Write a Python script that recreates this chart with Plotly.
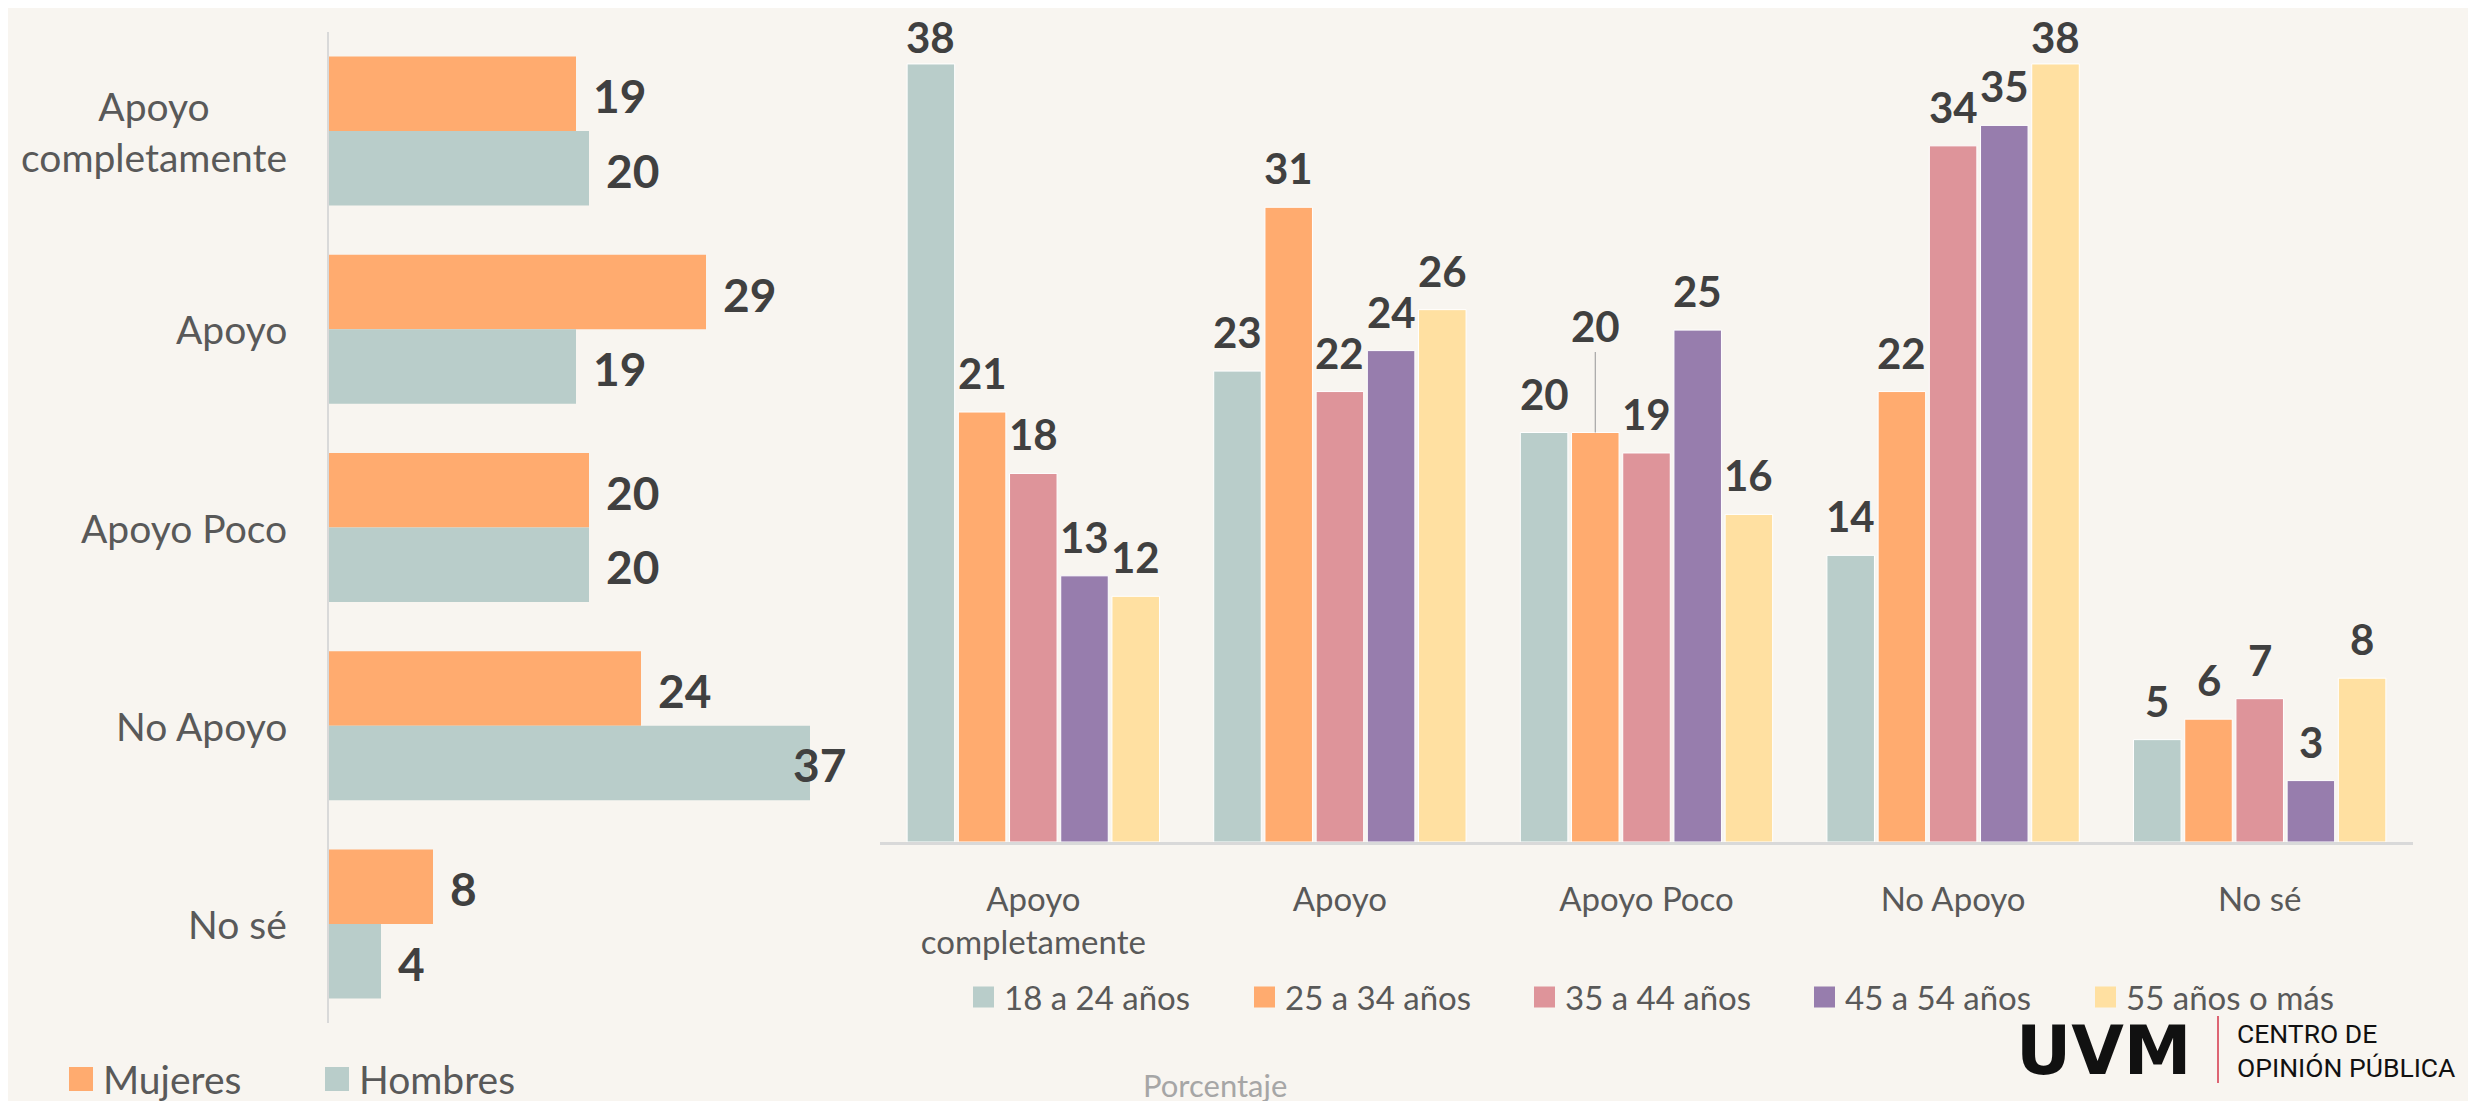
import plotly.graph_objects as go

# ---------------- data ----------------
categories = ["Apoyo completamente", "Apoyo", "Apoyo Poco", "No Apoyo", "No sé"]
category_labels = ["Apoyo<br>completamente", "Apoyo", "Apoyo Poco", "No Apoyo", "No sé"]

gender_names = ["Mujeres", "Hombres"]
mujeres = [19, 29, 20, 24, 8]
hombres = [20, 19, 20, 37, 4]

age_names = ["18 a 24 años", "25 a 34 años", "35 a 44 años", "45 a 54 años", "55 años o más"]
age_18_24 = [38, 23, 20, 14, 5]
age_25_34 = [21, 31, 20, 22, 6]
age_35_44 = [18, 22, 19, 34, 7]
age_45_54 = [13, 24, 25, 35, 3]
age_55_mas = [12, 26, 16, 38, 8]

# ---------------- styles ----------------
BG = "#F8F5F0"
C_TEAL = "#B9CDCA"
C_ORANGE = "#FFAB6F"
C_PINK = "#DE949A"
C_PURPLE = "#977DAD"
C_YELLOW = "#FFE0A1"
LABEL = "#404040"
TICK = "#595959"
FONT = "Lato"

W, H = 2476, 1101
OFF = 8  # page body margin of the written html


def px(x):
    return (x - OFF) / W


def py(y):
    return 1 - (y - OFF) / H


# plot-area geometry (page pixels)
L_X0, L_X1, L_RANGE = 329, 849, 40
R_Y0, R_Y1, R_RANGE = 842, 23, 40

fig = go.Figure()
annotations = []
shapes = []

# ---------------- left chart (gender) ----------------
left_w = 0.376
gender_series = [mujeres, hombres]
gender_colors = [C_ORANGE, C_TEAL]
gender_offsets = [-left_w, 0.0]
l_scale = (L_X1 - L_X0) / L_RANGE
for name, vals, col, off in zip(gender_names, gender_series, gender_colors, gender_offsets):
    fig.add_trace(go.Bar(
        name=name, y=categories, x=vals, orientation="h",
        marker=dict(color=col, line=dict(width=0)),
        width=left_w, offset=off, showlegend=False,
        xaxis="x", yaxis="y",
    ))
    for j, v in enumerate(vals):
        bar_end = L_X0 + v * l_scale
        xs = min(15, (843 - 52) - bar_end)  # keep label inside the chart area
        annotations.append(dict(
            xref="x", yref="y", x=v, y=j + off + left_w / 2,
            xanchor="left", yanchor="middle", xshift=xs, yshift=-2,
            text=f"<b>{v}</b>", showarrow=False,
            font=dict(family=FONT, size=46, color=LABEL),
        ))

# ---------------- right chart (age) ----------------
age_series = [age_18_24, age_25_34, age_35_44, age_45_54, age_55_mas]
age_colors = [C_TEAL, C_ORANGE, C_PINK, C_PURPLE, C_YELLOW]
slot = 0.167
bw = 0.155
r_scale = (R_Y0 - R_Y1) / R_RANGE
moved = (1, 2)  # series 25-34, category "Apoyo Poco": label lifted with a leader line
for i, (name, vals, col) in enumerate(zip(age_names, age_series, age_colors)):
    fig.add_trace(go.Bar(
        name=name, x=categories, y=vals,
        marker=dict(color=col, line=dict(color="#FFFFFF", width=1)),
        width=bw, offset=(i - 2) * slot - bw / 2, showlegend=False,
        xaxis="x2", yaxis="y2",
    ))
    for j, v in enumerate(vals):
        xc = j + (i - 2) * slot
        if (i, j) == moved:
            annotations.append(dict(
                xref="x2", yref="y2", x=xc, y=v,
                text=f"<b>{v}</b>", showarrow=True, arrowhead=0, arrowwidth=1.2,
                arrowcolor="#A6A6A6", ax=0, ay=-107, standoff=0,
                font=dict(family=FONT, size=42, color=LABEL),
            ))
        else:
            bar_top = R_Y0 - v * r_scale
            ys = max(0, min(12, bar_top - 64))  # keep the label inside the page
            annotations.append(dict(
                xref="x2", yref="y2", x=xc, y=v,
                xanchor="center", yanchor="bottom", yshift=ys,
                text=f"<b>{v}</b>", showarrow=False,
                font=dict(family=FONT, size=42, color=LABEL),
            ))

# left category labels
for i, lab in enumerate(category_labels):
    annotations.append(dict(
        xref="paper", yref="y", x=px(289), y=i, xanchor="right", yanchor="middle",
        text=lab, align="center", showarrow=False,
        font=dict(family=FONT, size=39, color=TICK),
    ))

# ---------------- legends (swatch + text) ----------------
def legend_item(x0, size, yc, color, text, fsize):
    shapes.append(dict(
        type="rect", xref="paper", yref="paper",
        x0=px(x0), x1=px(x0 + size), y0=py(yc + size / 2), y1=py(yc - size / 2),
        fillcolor=color, line=dict(width=0),
    ))
    annotations.append(dict(
        xref="paper", yref="paper", x=px(x0 + size + 8), y=py(yc), xanchor="left", yanchor="middle",
        text=text, showarrow=False, font=dict(family=FONT, size=fsize, color=TICK),
    ))


left_leg_x = [69, 325]
for x0, col, name in zip(left_leg_x, gender_colors, gender_names):
    legend_item(x0, 24, 1079, col, name, 39)

right_leg_x = [973, 1254, 1534, 1814, 2095]
for x0, col, name in zip(right_leg_x, age_colors, age_names):
    legend_item(x0, 21, 997, col, name, 33)

# Porcentaje
annotations.append(dict(
    xref="paper", yref="paper", x=px(1215), y=py(1085), xanchor="center", yanchor="middle",
    text="Porcentaje", showarrow=False, font=dict(family=FONT, size=31, color="#A6A6A6"),
))

# logo
annotations.append(dict(
    xref="paper", yref="paper", x=px(2014), y=py(1050), xanchor="left", yanchor="middle",
    text="<b>UVM</b>", showarrow=False, font=dict(family="DejaVu Sans", size=68, color="#111111"),
))
annotations.append(dict(
    xref="paper", yref="paper", x=px(2235), y=py(1050), xanchor="left", yanchor="middle",
    text="CENTRO DE<br>OPINIÓN PÚBLICA", align="left", showarrow=False,
    font=dict(family="Roboto", size=26.5, color="#111111"),
))
shapes.append(dict(
    type="line", xref="paper", yref="paper",
    x0=px(2218), x1=px(2218), y0=py(1083), y1=py(1016),
    line=dict(color="#D5354A", width=1.5),
))

fig.update_layout(
    width=W, height=H,
    margin=dict(l=0, r=0, t=0, b=0),
    paper_bgcolor=BG, plot_bgcolor=BG,
    barmode="overlay",
    font=dict(family=FONT, color=TICK),
    xaxis=dict(domain=[px(L_X0), px(L_X1)], range=[0, L_RANGE], visible=False, fixedrange=True),
    yaxis=dict(domain=[py(1023), py(32)], autorange="reversed", showticklabels=False,
               showline=True, linecolor="#D9D9D9", linewidth=2, showgrid=False, zeroline=False,
               anchor="x"),
    xaxis2=dict(domain=[px(880), px(2413)], anchor="y2", tickvals=categories, ticktext=category_labels,
                showline=True, linecolor="#D9D9D9", linewidth=3, showgrid=False,
                ticks="", ticklabelstandoff=26,
                tickfont=dict(family=FONT, size=33, color=TICK)),
    yaxis2=dict(domain=[py(R_Y0), py(R_Y1)], range=[0, R_RANGE], visible=False, anchor="x2"),
    annotations=annotations,
    shapes=shapes,
    showlegend=False,
)

fig.write_html("out.html")
